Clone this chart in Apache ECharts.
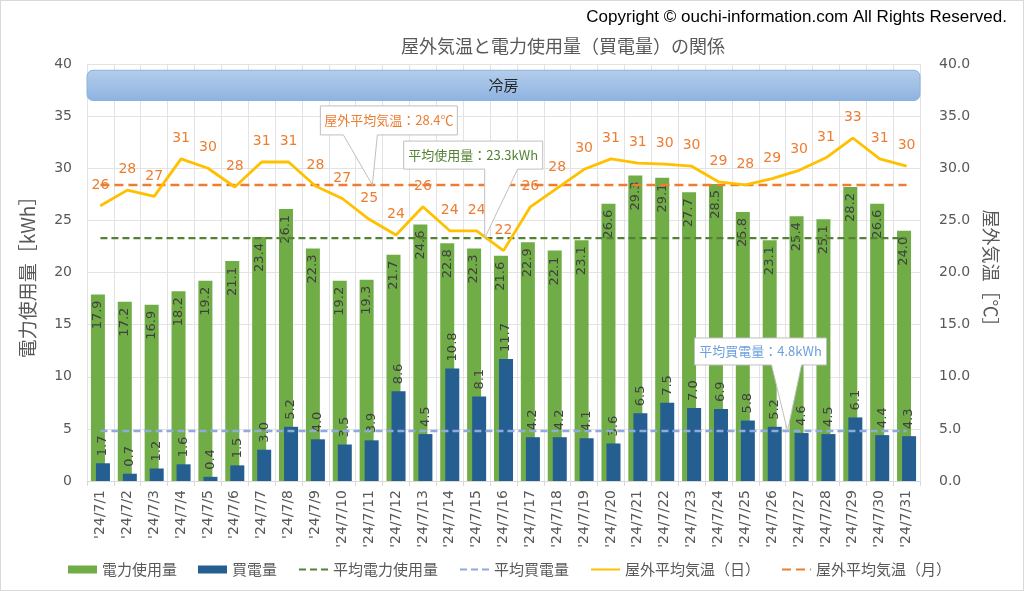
<!DOCTYPE html>
<html>
<head>
<meta charset="utf-8">
<script src="https://cdn.jsdelivr.net/npm/echarts@6/dist/echarts.min.js"></script>
<style>
html,body{margin:0;padding:0;background:#fff;}
#c{width:1024px;height:591px;box-sizing:border-box;border:1px solid #D9D9D9;}
</style>
</head>
<body>
<div id="c"></div>
<script>
const categories = ["'24/7/1","'24/7/2","'24/7/3","'24/7/4","'24/7/5","'24/7/6","'24/7/7","'24/7/8","'24/7/9","'24/7/10","'24/7/11","'24/7/12","'24/7/13","'24/7/14","'24/7/15","'24/7/16","'24/7/17","'24/7/18","'24/7/19","'24/7/20","'24/7/21","'24/7/22","'24/7/23","'24/7/24","'24/7/25","'24/7/26","'24/7/27","'24/7/28","'24/7/29","'24/7/30","'24/7/31"];
const usage = [17.9,17.2,16.9,18.2,19.2,21.1,23.4,26.1,22.3,19.2,19.3,21.7,24.6,22.8,22.3,21.6,22.9,22.1,23.1,26.6,29.3,29.1,27.7,28.5,25.8,23.1,25.4,25.1,28.2,26.6,24.0];
const purchased = [1.7,0.7,1.2,1.6,0.4,1.5,3.0,5.2,4.0,3.5,3.9,8.6,4.5,10.8,8.1,11.7,4.2,4.2,4.1,3.6,6.5,7.5,7.0,6.9,5.8,5.2,4.6,4.5,6.1,4.4,4.3];
const tempDaily = [26.4,27.9,27.3,30.9,30.0,28.2,30.6,30.6,28.3,27.1,25.1,23.6,26.3,24.0,24.0,22.1,26.3,28.1,29.9,30.9,30.5,30.4,30.2,28.7,28.4,29.0,29.8,31.0,32.9,30.9,30.2];
const avgUsage = 23.3;
const avgPurchased = 4.8;
const avgTempMonth = 28.4;
const seriesNames = ['電力使用量','買電量','平均電力使用量','平均買電量','屋外平均気温（日）','屋外平均気温（月）'];
const titleText = '屋外気温と電力使用量（買電量）の関係';
const copyrightText = 'Copyright © ouchi-information.com All Rights Reserved.';
const bandText = '冷房';
const leftAxisName = '電力使用量［kWh］';
const rightAxisName = '屋外気温［℃］';
const calloutTexts = ['屋外平均気温：28.4℃','平均使用量：23.3kWh','平均買電量：4.8kWh'];
const calloutIndex = [10.12, 14.3, 25.57];
const calloutValue = [avgTempMonth, avgUsage, avgPurchased];

const FONT = "'DejaVu Sans','Noto Sans CJK JP',sans-serif";
const JP = "'Noto Sans CJK JP',sans-serif";
const GRAY = '#595959';

const chart = echarts.init(document.getElementById('c'));
const constLine = v => categories.map(() => v);
const lineLegend = name => ({name: name, itemStyle: {opacity: 0}});

chart.setOption({
  animation: false,
  textStyle: {fontFamily: FONT},
  title: {
    text: titleText, left: 557, top: 31, textAlign: 'center',
    textStyle: {fontFamily: JP, fontSize: 18, fontWeight: 'normal', color: GRAY}
  },
  legend: {
    left: 67, top: 561, padding: 0, itemGap: 21, itemWidth: 29, itemHeight: 8,
    textStyle: {fontFamily: JP, fontSize: 15, color: GRAY},
    data: [
      {name: seriesNames[0], icon: 'rect'},
      {name: seriesNames[1], icon: 'rect'},
      lineLegend(seriesNames[2]), lineLegend(seriesNames[3]), lineLegend(seriesNames[4]), lineLegend(seriesNames[5])
    ]
  },
  grid: {left: 86, right: 103, top: 63, bottom: 109},
  xAxis: {
    type: 'category', data: categories, boundaryGap: true,
    axisLine: {lineStyle: {color: '#D9D9D9'}},
    axisTick: {show: true, interval: 0, length: 5, lineStyle: {color: '#D9D9D9'}},
    splitLine: {show: true, interval: 0, lineStyle: {color: '#E3E3E3'}},
    axisLabel: {interval: 0, rotate: 90, fontSize: 14, color: GRAY, margin: 9, fontFamily: FONT}
  },
  yAxis: [
    {
      type: 'value', min: 0, max: 40, interval: 5,
      name: leftAxisName, nameLocation: 'middle', nameGap: 50, nameRotate: 90,
      nameTextStyle: {fontFamily: JP, fontSize: 19, color: GRAY},
      axisLine: {show: false}, axisTick: {show: false},
      splitLine: {lineStyle: {color: '#E3E3E3'}},
      axisLabel: {fontSize: 14, color: GRAY, margin: 15, fontFamily: FONT}
    },
    {
      type: 'value', min: 0, max: 40, interval: 5,
      name: rightAxisName, nameLocation: 'middle', nameGap: 62, nameRotate: -90,
      nameTextStyle: {fontFamily: JP, fontSize: 18, color: GRAY},
      axisLine: {show: false}, axisTick: {show: false}, splitLine: {show: false},
      axisLabel: {fontSize: 14, color: GRAY, margin: 19, fontFamily: FONT, formatter: v => v.toFixed(1)}
    }
  ],
  series: [
    {
      name: seriesNames[0], type: 'bar', data: usage, barWidth: 14, barGap: '-64%',
      itemStyle: {color: '#70AD47'}, z: 2,
      label: {show: true, position: 'insideTop', rotate: 90, align: 'right', verticalAlign: 'middle',
        distance: 6, fontSize: 13, color: '#404040', fontFamily: FONT, formatter: p => p.value.toFixed(1)}
    },
    {
      name: seriesNames[1], type: 'bar', data: purchased, barWidth: 14,
      itemStyle: {color: '#255E91'}, z: 2,
      label: {show: true, position: 'top', rotate: 90, align: 'left', verticalAlign: 'middle',
        distance: 7, fontSize: 13, color: '#404040', fontFamily: FONT, formatter: p => p.value.toFixed(1)}
    },
    {
      name: seriesNames[2], type: 'line', data: constLine(avgUsage), symbol: 'none', z: 4,
      lineStyle: {color: '#548235', width: 2.2, type: [7, 4]}, itemStyle: {color: '#548235'}
    },
    {
      name: seriesNames[3], type: 'line', data: constLine(avgPurchased), symbol: 'none', z: 4,
      lineStyle: {color: '#8FAADC', width: 2.5, type: [7, 4]}, itemStyle: {color: '#8FAADC'}
    },
    {
      name: seriesNames[4], type: 'line', yAxisIndex: 1, data: tempDaily, z: 6,
      symbol: 'circle', symbolSize: 1, showAllSymbol: true,
      lineStyle: {color: '#FFC000', width: 2.8}, itemStyle: {color: '#FFC000'},
      label: {show: true, position: 'top', distance: 13, fontSize: 14, color: '#ED7D31', fontFamily: FONT,
        formatter: p => String(Math.round(p.value))}
    },
    {
      name: seriesNames[5], type: 'line', yAxisIndex: 1, data: constLine(avgTempMonth), symbol: 'none', z: 5,
      lineStyle: {color: '#ED7D31', width: 2.5, type: [9, 5]}, itemStyle: {color: '#ED7D31'}
    }
  ]
});

function px(idx, val, axisIdx) {
  const i0 = Math.floor(idx), f = idx - i0;
  const a = chart.convertToPixel({xAxisIndex: 0, yAxisIndex: axisIdx || 0}, [i0, val]);
  const b = chart.convertToPixel({xAxisIndex: 0, yAxisIndex: axisIdx || 0}, [Math.min(i0 + 1, categories.length - 1), val]);
  return [a[0] + (b[0] - a[0]) * f, a[1]];
}

const step = px(1, 0)[0] - px(0, 0)[0];
const bandL = px(0, 39.4)[0] - step / 2;
const bandR = px(categories.length - 1, 39.4)[0] + step / 2;
const bandT = px(0, 39.4)[1];
const bandB = px(0, 36.5)[1];

// callout geometry relative to tip: [boxDx, boxDy, w, h, tailL, tailR]
const calloutGeom = [
  [-52, -79, 137, 29, -29, 5],
  [-81, -97, 139, 28, 0, 33],
  [-93, -93, 132, 27, -16, 14]
];
const calloutColors = ['#ED7D31', '#548235', '#6FA0DC'];

const graphics = [
  {
    type: 'text', right: 16, top: 8, z: 20,
    style: {text: copyrightText, font: "17px 'Liberation Sans', sans-serif", fill: '#000'}
  },
  {
    type: 'rect', z: 8,
    shape: {x: bandL, y: bandT, width: bandR - bandL, height: bandB - bandT, r: 6},
    style: {
      fill: new echarts.graphic.LinearGradient(0, 0, 0, 1, [{offset: 0, color: '#B4CDEB'}, {offset: 1, color: '#8DB3E1'}]),
      stroke: '#8FB2DB', lineWidth: 1
    }
  },
  {
    type: 'text', z: 9, x: (bandL + bandR) / 2, y: (bandT + bandB) / 2,
    style: {text: bandText, font: "15px 'Noto Sans CJK JP'", fill: '#262626', align: 'center', verticalAlign: 'middle'}
  }
];

calloutTexts.forEach((t, k) => {
  const tip = px(calloutIndex[k], calloutValue[k], k === 0 ? 1 : 0);
  const g = calloutGeom[k];
  const x0 = tip[0] + g[0], y0 = tip[1] + g[1], x1 = x0 + g[2], y1 = y0 + g[3];
  graphics.push({
    type: 'polygon', z: 30,
    shape: {points: [[x0, y0], [x1, y0], [x1, y1], [tip[0] + g[5], y1], tip, [tip[0] + g[4], y1], [x0, y1]]},
    style: {fill: '#fff', stroke: '#BFBFBF', lineWidth: 1}
  });
  graphics.push({
    type: 'text', z: 31, x: (x0 + x1) / 2, y: (y0 + y1) / 2,
    style: {text: t, font: "13px 'Noto Sans CJK JP'", fill: calloutColors[k], align: 'center', verticalAlign: 'middle'}
  });
});

chart.setOption({graphic: graphics});
</script>
</body>
</html>
